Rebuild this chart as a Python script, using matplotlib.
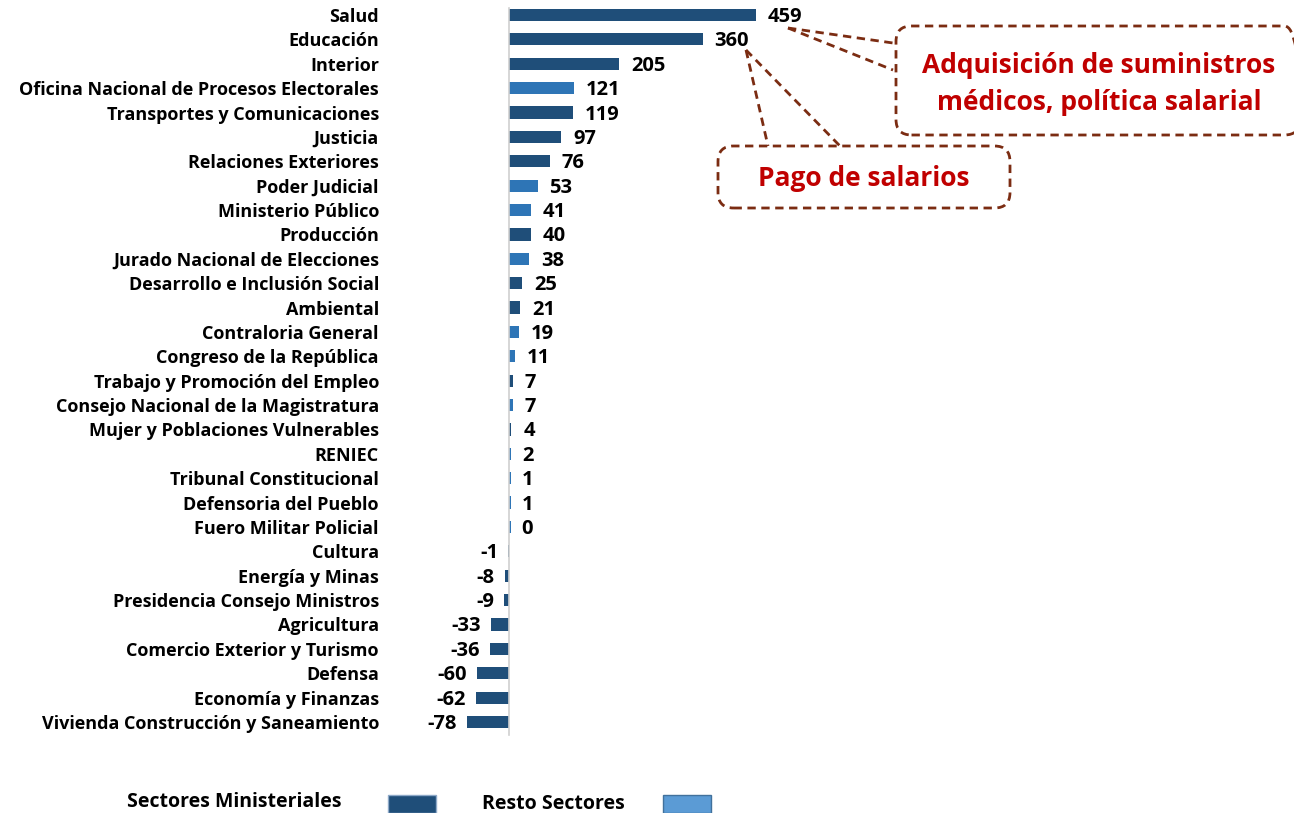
import numpy as np
import matplotlib
matplotlib.use('Agg')
import matplotlib.pyplot as plt
from matplotlib.patches import FancyBboxPatch, Rectangle
from matplotlib.lines import Line2D

plt.rcParams['font.family'] = ['Open Sans', 'DejaVu Sans']
plt.rcParams['font.weight'] = 'bold'

sectors = ['Salud', 'Educación', 'Interior', 'Oficina Nacional de Procesos Electorales',
           'Transportes y Comunicaciones', 'Justicia', 'Relaciones Exteriores',
           'Poder Judicial', 'Ministerio Público', 'Producción',
           'Jurado Nacional de Elecciones', 'Desarrollo e Inclusión Social', 'Ambiental',
           'Contraloria General', 'Congreso de la República',
           'Trabajo y Promoción del Empleo', 'Consejo Nacional de la Magistratura',
           'Mujer y Poblaciones Vulnerables', 'RENIEC', 'Tribunal Constitucional',
           'Defensoria del Pueblo', 'Fuero Militar Policial', 'Cultura', 'Energía y Minas',
           'Presidencia Consejo Ministros', 'Agricultura', 'Comercio Exterior y Turismo',
           'Defensa', 'Economía y Finanzas', 'Vivienda Construcción y Saneamiento']
values = [459, 360, 205, 121, 119, 97, 76, 53, 41, 40, 38, 25, 21, 19, 11, 7, 7, 4, 2,
          1, 1, 0, -1, -8, -9, -33, -36, -60, -62, -78]
# 1 = sector ministerial, 0 = resto sectores
ministerial = [1, 1, 1, 0, 1, 1, 1, 0, 0, 1, 0, 1, 1, 0, 0, 1, 0, 1, 0, 0, 0, 0, 1, 1,
               1, 1, 1, 1, 1, 1]

dark = '#1F4E79'
light = '#2E75B6'
brown = '#7B2C12'
red = '#C00000'

W, H = 1294, 813
fig = plt.figure(figsize=(W / 100, H / 100), dpi=100)


def px(x, y):
    return x / W, 1 - y / H


ax = fig.add_axes([390 / W, 1 - 740 / H, (W - 390) / W, 740 / H])
y = np.arange(len(sectors))
colors = [dark if m else light for m in ministerial]
ax.barh(y, values, height=0.5, color=colors)
# thin stub so the tiny values still show up, like in the original
ax.barh(y, [3 if v >= 0 else -2 for v in values], height=0.5, color=colors)

scale = 0.538  # px per unit
ax.set_xlim((390 - 509) / scale, (W - 509) / scale)
ax.set_ylim(29 + 18 / 24.38, -15 / 24.38)
for s in ax.spines.values():
    s.set_visible(False)
ax.axvline(0, color='#D0D0D0', lw=1.2, ymin=5 / 740, ymax=1 - 8 / 740)
ax.set_xticks([])
ax.set_yticks(y)
ax.set_yticklabels(sectors, fontsize=13, fontweight='bold')
ax.tick_params(axis='y', length=0, pad=8)

for yi, v in zip(y, values):
    if v >= 0:
        ax.annotate(str(v), (v, yi), xytext=(12, -2), textcoords='offset pixels',
                    ha='left', va='center', fontsize=14.5, fontweight='bold')
    else:
        ax.annotate(str(v), (v, yi), xytext=(-10, -2), textcoords='offset pixels',
                    ha='right', va='center', fontsize=14.5, fontweight='bold')


def dashed_line(x0, y0, x1, y1):
    (a, b), (c, d) = px(x0, y0), px(x1, y1)
    fig.add_artist(Line2D([a, c], [b, d], transform=fig.transFigure, color=brown,
                          lw=2, ls=(0, (3, 2))))


def callout(x0, y0, x1, y1):
    a, b = px(x0, y1)
    box = FancyBboxPatch((a, b), (x1 - x0) / W, (y1 - y0) / H,
                         boxstyle='round,pad=0,rounding_size=0.012',
                         transform=fig.transFigure, fill=False, edgecolor=brown,
                         lw=2, ls=(0, (3, 2)), mutation_aspect=W / H)
    fig.add_artist(box)


callout(896, 26, 1300, 135)
dashed_line(788, 28, 893, 43)
dashed_line(788, 28, 893, 70)
fig.text(*px(1099, 84), 'Adquisición de suministros\nmédicos, política salarial',
         ha='center', va='center', color=red, fontsize=19, fontweight='bold',
         linespacing=1.5)

callout(718, 146, 1010, 208)
dashed_line(746, 50, 768, 146)
dashed_line(746, 50, 840, 146)
fig.text(*px(864, 178), 'Pago de salarios', ha='center', va='center', color=red,
         fontsize=19, fontweight='bold')

# legend
fig.text(*px(127, 802), 'Sectores Ministeriales', ha='left', va='center',
         fontsize=14, fontweight='bold')
fig.add_artist(Rectangle(px(388, 813), 48 / W, 18 / H, transform=fig.transFigure,
                         facecolor=dark, edgecolor='#8EA9C8', lw=1))
fig.text(*px(482, 804), 'Resto Sectores', ha='left', va='center',
         fontsize=14, fontweight='bold')
fig.add_artist(Rectangle(px(663, 813), 48 / W, 18 / H, transform=fig.transFigure,
                         facecolor='#5B9BD5', edgecolor='#41719C', lw=1))

fig.savefig('out.png', dpi=100)
